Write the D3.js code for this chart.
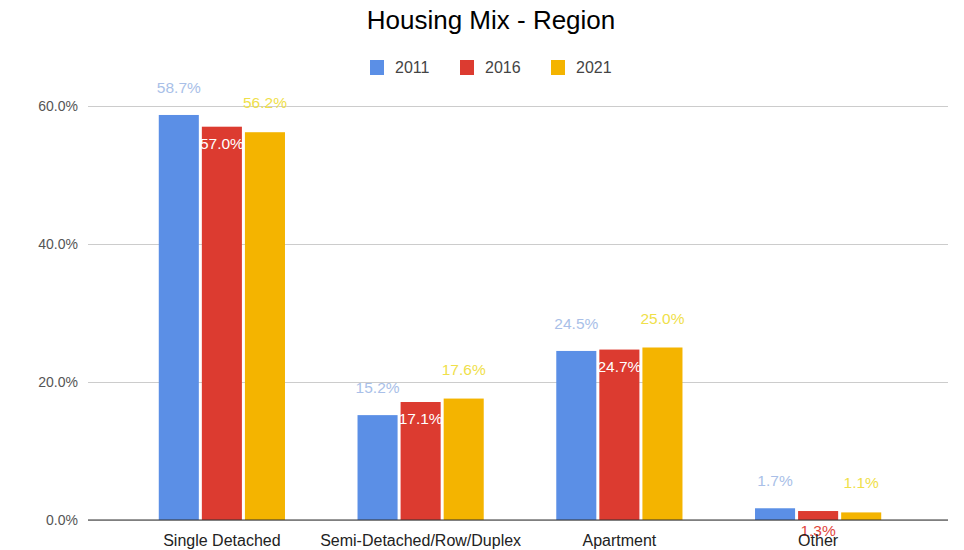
<!DOCTYPE html>
<html>
<head>
<meta charset="utf-8">
<script src="https://cdn.jsdelivr.net/npm/d3@7"></script>
<style>
  body { margin: 0; background: #fff; }
  svg { display: block; font-family: "Liberation Sans", Arial, sans-serif; }
</style>
</head>
<body>
<svg id="chart" width="964" height="550"></svg>
<script>
// Housing mix by dwelling type, share of total (%)
const categories = ["Single Detached", "Semi-Detached/Row/Duplex", "Apartment", "Other"];
const years = ["2011", "2016", "2021"];
const values2011 = [58.7, 15.2, 24.5, 1.7];
const values2016 = [57.0, 17.1, 24.7, 1.3];
const values2021 = [56.2, 17.6, 25.0, 1.1];
const yTicks = [0, 20, 40, 60];

const seriesValues = [values2011, values2016, values2021];
const colors = ["#5b8fe6", "#dc3b30", "#f4b400"];
const labelColors = ["#a9bfe8", "#ffffff", "#efe04a"];

const svg = d3.select("#chart");
const plot = { left: 88, right: 948, top: 106, bottom: 520 };

const x0 = d3.scaleBand().domain(categories).range([123, 917]).paddingInner(0.365).paddingOuter(0.18);
const x1 = d3.scaleBand().domain(years).range([0, x0.bandwidth()]).paddingInner(0.07);
const y = d3.scaleLinear().domain([0, 60]).range([plot.bottom, plot.top]);

// Title
svg.append("text")
  .attr("x", 491).attr("y", 29)
  .attr("text-anchor", "middle")
  .attr("font-size", 26)
  .attr("fill", "#000")
  .text("Housing Mix - Region");

// Legend
const legendX = [370, 460, 551];
years.forEach((yr, i) => {
  const g = svg.append("g").attr("transform", `translate(${legendX[i]},60)`);
  g.append("rect").attr("width", 14).attr("height", 15).attr("fill", colors[i]);
  g.append("text").attr("x", 25).attr("y", 13).attr("font-size", 16).attr("fill", "#444").text(yr);
});

// Grid and y axis labels
const yAxis = d3.axisLeft(y).tickValues(yTicks).tickSize(-(plot.right - plot.left))
  .tickFormat(d => d.toFixed(1) + "%");
const gy = svg.append("g").attr("transform", `translate(${plot.left},0)`).call(yAxis);
gy.select(".domain").remove();
gy.selectAll(".tick line").attr("stroke", "#cccccc").attr("stroke-width", 1);
gy.selectAll(".tick text").attr("x", -10).attr("font-size", 14).attr("fill", "#555")
  .attr("font-family", "'Liberation Sans', Arial, sans-serif");

// Bars
const groups = svg.append("g").selectAll("g").data(categories).join("g")
  .attr("transform", d => `translate(${x0(d)},0)`);

groups.each(function(cat, ci) {
  const g = d3.select(this);
  years.forEach((yr, si) => {
    const v = seriesValues[si][ci];
    g.append("rect")
      .attr("x", x1(yr)).attr("width", x1.bandwidth())
      .attr("y", y(v)).attr("height", y(0) - y(v))
      .attr("fill", colors[si]);
  });
});

// Baseline
svg.append("line")
  .attr("x1", plot.left).attr("x2", plot.right)
  .attr("y1", y(0)).attr("y2", y(0))
  .attr("stroke", "#333").attr("stroke-width", 1.2);

// Value labels
groups.each(function(cat, ci) {
  const g = d3.select(this);
  years.forEach((yr, si) => {
    const v = seriesValues[si][ci];
    const cx = x1(yr) + x1.bandwidth() / 2;
    let ly, fill = labelColors[si], stroke = null;
    if (si === 1) {
      // middle series sits inside the bar top, or below the axis when too short
      if (y(0) - y(v) > 30) { ly = y(v) + 22; }
      else { ly = y(0) + 16; fill = "#e0463c"; stroke = "#ffffff"; }
    } else if (si === 0) {
      ly = y(v) - 22;
    } else {
      ly = y(v) - 24;
    }
    const t = g.append("text")
      .attr("x", cx).attr("y", ly)
      .attr("text-anchor", "middle")
      .attr("font-size", 15.5)
      .attr("fill", fill)
      .text(v.toFixed(1) + "%");
    if (stroke) t.attr("stroke", stroke).attr("stroke-width", 0.6).attr("paint-order", "stroke");
  });
});

// Category labels
groups.append("text")
  .attr("x", x0.bandwidth() / 2)
  .attr("y", y(0) + 26)
  .attr("text-anchor", "middle")
  .attr("font-size", 16)
  .attr("fill", "#222")
  .text(d => d);
</script>
</body>
</html>
